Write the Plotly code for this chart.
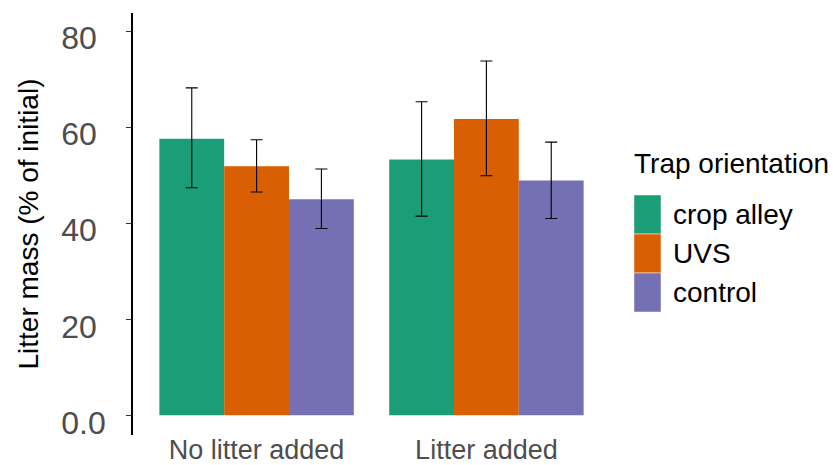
import plotly.graph_objects as go

# ---- data ----
treatments = ["No litter added", "Litter added"]
orientations = ["crop alley", "UVS", "control"]
colors = ["#1B9E77", "#D95F02", "#7570B3"]

mean_crop_alley = [57.6, 53.3]
mean_uvs = [51.9, 61.7]
mean_control = [45.0, 48.9]

upper_crop_alley = [68.2, 65.3]
upper_uvs = [57.4, 73.8]
upper_control = [51.3, 56.9]

lower_crop_alley = [47.4, 41.5]
lower_uvs = [46.5, 49.9]
lower_control = [38.9, 41.0]

y_ticks = [0, 20, 40, 60, 80]
y_ticktext = ["0.0", "20\u00a0", "40\u00a0", "60\u00a0", "80\u00a0"]

means = [mean_crop_alley, mean_uvs, mean_control]
uppers = [upper_crop_alley, upper_uvs, upper_control]
lowers = [lower_crop_alley, lower_uvs, lower_control]

FONT = "Liberation Sans, Arial, sans-serif"
W, H = 833, 465
ML, MR, MT, MB = 133, 223, 13, 30

fig = go.Figure()
for name, col, m, up, lo in zip(orientations, colors, means, uppers, lowers):
    fig.add_trace(go.Bar(
        x=treatments, y=m, name=name,
        marker=dict(color=col, line=dict(width=0)),
        error_y=dict(type="data", symmetric=False,
                     array=[u - v for u, v in zip(up, m)],
                     arrayminus=[v - l for v, l in zip(m, lo)],
                     color="black", thickness=1.1, width=6),
        showlegend=False,
    ))

# ---- legend drawn manually (large ggplot-style keys) ----
pw = W - ML - MR
ph = H - MT - MB
def px_x(px):
    return (px - ML) / pw
def px_y(py):
    return (H - MB - py) / ph

fig.add_annotation(x=px_x(632), y=px_y(163), xref="paper", yref="paper",
                   text="Trap orientation", showarrow=False, xanchor="left",
                   yanchor="middle", font=dict(family=FONT, size=28, color="black"))
key_top = 195
key_h = 39
for i, (name, col) in enumerate(zip(orientations, colors)):
    t = key_top + i * key_h
    fig.add_shape(type="rect", xref="paper", yref="paper",
                  x0=px_x(634), x1=px_x(661), y0=px_y(t + key_h), y1=px_y(t),
                  fillcolor=col, line=dict(width=0.6, color="rgba(255,255,255,0.8)"))
    fig.add_annotation(x=px_x(671), y=px_y(t + key_h / 2), xref="paper", yref="paper",
                       text=name, showarrow=False, xanchor="left", yanchor="middle",
                       font=dict(family=FONT, size=28, color="black"))

fig.update_layout(
    width=W, height=H,
    margin=dict(l=ML, r=MR, t=MT, b=MB, autoexpand=False),
    paper_bgcolor="white", plot_bgcolor="white",
    barmode="group", bargap=0.154, bargroupgap=0,
    font=dict(family=FONT),
)
fig.update_xaxes(
    range=[-0.5377, 1.5377], showline=False, showgrid=False, zeroline=False,
    automargin=False,
    ticks="", tickfont=dict(family=FONT, size=27, color="#4D4D4D"),
    ticklabelstandoff=-4,
)
fig.update_yaxes(
    range=[-4.1, 83.8], showline=True, linecolor="black", linewidth=1.6,
    showgrid=False, zeroline=False, automargin=False,
    tickvals=y_ticks, ticktext=y_ticktext,
    ticks="outside", ticklen=5, tickcolor="#333333", tickwidth=1,
    tickfont=dict(family=FONT, size=32, color="#4D4D4D"),
    ticklabelstandoff=14, ticklabelshift=7,
    title=dict(text="Litter mass (% of initial)",
               font=dict(family=FONT, size=28, color="black"), standoff=15),
)

fig.write_html("out.html", config={"displayModeBar": False},
               post_script="document.body.style.margin='0px';document.body.style.padding='0px';")
